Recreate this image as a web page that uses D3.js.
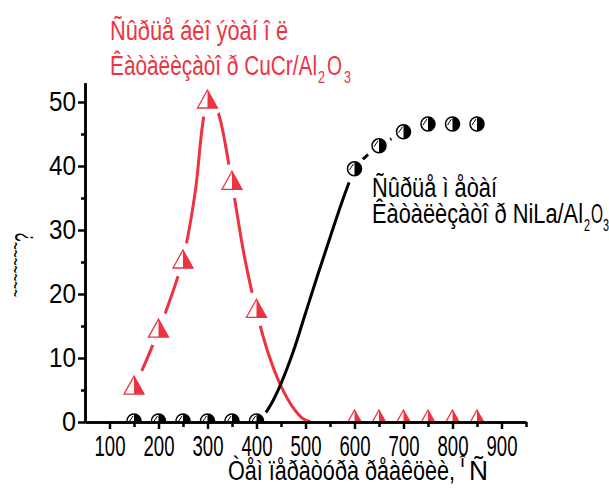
<!DOCTYPE html>
<html lang="en">
<head>
<meta charset="UTF-8">
<title>chart</title>
<script src="https://cdn.jsdelivr.net/npm/d3@7"></script>
<style>
  body { margin: 0; background: #fff; }
  text { font-family: "Liberation Sans", Arial, sans-serif; }
</style>
</head>
<body>
<script>
// measured points
var redX = [150, 200, 250, 300, 350, 400, 600, 650, 700, 750, 800, 850];
var redY = [5.3, 14.2, 25, 50, 37.3, 17.3, 0, 0, 0, 0, 0, 0];
var blackX = [150, 200, 250, 300, 350, 400, 600, 650, 700, 750, 800, 850];
var blackY = [0, 0, 0, 0, 0, 0, 39.4, 43, 45.2, 46.4, 46.4, 46.4];

// fitted curves
var redFitX = [150, 175, 200, 225, 250, 275, 290, 300, 310, 325, 350, 375, 400, 425, 450, 475, 495, 510];
var redFitY = [5.3, 9.6, 14.2, 19.4, 25.5, 36, 46.5, 50.2, 50.3, 47.5, 37.3, 26, 17.3, 10.5, 5.6, 2.2, 0.5, 0];
var blackFitX = [405, 430, 450, 475, 500, 525, 550, 575, 600, 625, 650, 700, 750, 800, 850];
var blackFitY = [0, 2.8, 6, 11, 17, 23, 28.8, 34.5, 39.4, 41.6, 43, 45.2, 46.3, 46.4, 46.4];

var xTicks = [100, 200, 300, 400, 500, 600, 700, 800, 900];
var xMinor = [150, 250, 350, 450, 550, 650, 750, 850, 950];
var yTicks = [0, 10, 20, 30, 40, 50];
var yMinor = [5, 15, 25, 35, 45];

var width = 609, height = 488;
var red = "#ee3340";

var svg = d3.select("body").append("svg")
    .attr("width", width)
    .attr("height", height);

var x = d3.scaleLinear().domain([50, 950]).range([85, 526]);
var y = d3.scaleLinear().domain([0, 53]).range([422, 422 - 53 * 6.4]);

svg.append("clipPath").attr("id", "plot")
  .append("rect")
    .attr("x", 0).attr("y", 0)
    .attr("width", width).attr("height", y(0));

var redLine = d3.line()
    .x(function (d) { return x(d[0]); })
    .y(function (d) { return y(d[1]); })
    .curve(d3.curveCatmullRom);
var blackLine = d3.line()
    .x(function (d) { return x(d[0]); })
    .y(function (d) { return y(d[1]); })
    .curve(d3.curveMonotoneX);

// curves
svg.append("path")
    .datum(d3.zip(redFitX, redFitY))
    .attr("d", redLine)
    .attr("fill", "none")
    .attr("stroke", red)
    .attr("stroke-width", 3);

svg.append("path")
    .datum(d3.zip(blackFitX, blackFitY))
    .attr("d", blackLine)
    .attr("fill", "none")
    .attr("stroke", "#000")
    .attr("stroke-width", 3);

// gaps around symbols
var redPts = d3.zip(redX, redY), blackPts = d3.zip(blackX, blackY);
svg.selectAll("circle.gapR")
    .data(redPts).enter().append("circle")
    .attr("cx", function (d) { return x(d[0]); })
    .attr("cy", function (d) { return y(d[1]) - 2; })
    .attr("r", 17)
    .attr("fill", "#fff");
svg.selectAll("circle.gapB")
    .data(blackPts).enter().append("circle")
    .attr("cx", function (d) { return x(d[0]); })
    .attr("cy", function (d) { return y(d[1]); })
    .attr("r", 13.5)
    .attr("fill", "#fff");

// symbols
var marks = svg.append("g").attr("clip-path", "url(#plot)");

var tri = marks.selectAll("g.tri")
    .data(redPts).enter().append("g")
    .attr("transform", function (d) { return "translate(" + x(d[0]) + "," + y(d[1]) + ")"; });
tri.append("path")
    .attr("d", "M0,-12L-10,6L10,6Z")
    .attr("fill", "#fff")
    .attr("stroke", red)
    .attr("stroke-width", 1.3);
tri.append("path")
    .attr("d", "M0,-12L10,6L0,6Z")
    .attr("fill", red);

var circ = marks.selectAll("g.circ")
    .data(blackPts).enter().append("g")
    .attr("transform", function (d) { return "translate(" + x(d[0]) + "," + (y(d[1]) - 1) + ")"; });
circ.append("circle")
    .attr("r", 7)
    .attr("fill", "#fff")
    .attr("stroke", "#000")
    .attr("stroke-width", 1.5);
circ.append("path")
    .attr("d", "M0,-7A7,7 0 0 1 0,7Z")
    .attr("fill", "#000");
circ.append("line")
    .attr("x1", -1).attr("y1", -5)
    .attr("x2", -5).attr("y2", 1)
    .attr("stroke", "#000")
    .attr("stroke-width", 1);

// axes
var yAxis = svg.append("g")
    .attr("transform", "translate(" + x(50) + ",0)")
    .call(d3.axisLeft(y).tickValues(yTicks).tickSize(7).tickSizeOuter(0).tickPadding(2));
svg.append("g")
    .attr("transform", "translate(" + x(50) + ",0)")
    .call(d3.axisLeft(y).tickValues(yMinor).tickSize(4).tickSizeOuter(0).tickFormat(""));

var xAxis = svg.append("g")
    .attr("transform", "translate(0," + y(0) + ")")
    .call(d3.axisBottom(x).tickValues(xTicks).tickSize(7).tickSizeOuter(0).tickPadding(6));
svg.append("g")
    .attr("transform", "translate(0," + y(0) + ")")
    .call(d3.axisBottom(x).tickValues(xMinor).tickSize(5).tickSizeOuter(0).tickFormat(""));

svg.selectAll(".domain, .tick line")
    .attr("stroke", "#000")
    .attr("stroke-width", 2.5);

yAxis.selectAll("text")
    .attr("font-size", 28)
    .attr("fill", "#000")
    .attr("textLength", function (d) { return d < 10 ? 14 : 27; })
    .attr("lengthAdjust", "spacingAndGlyphs");
xAxis.selectAll("text")
    .attr("font-size", 29)
    .attr("fill", "#000")
    .attr("textLength", 31)
    .attr("lengthAdjust", "spacingAndGlyphs");

// labels: each piece placed on its own so it can be squeezed to the picture's width
function label(txt, px, py, size, len, color) {
    var t = svg.append("text")
        .attr("x", px).attr("y", py)
        .attr("font-size", size)
        .attr("fill", color)
        .text(txt);
    if (len) t.attr("textLength", len).attr("lengthAdjust", "spacingAndGlyphs");
    return t;
}

label("Ñûðüå áèî ýòàí î ë", 110, 40, 27, 178, red);
label("Êàòàëèçàòî ð CuCr/Al", 110, 75, 27, 207, red);
label("2", 318, 83, 17, 7, red);
label("O", 327, 75, 27, 15, red);
label("3", 344, 83, 17, 7, red);

label("Ñûðüå ì åòàí", 372, 197, 27, 125, "#000");
label("Êàòàëèçàòî ð NiLa/Al", 372, 223, 27, 211, "#000");
label("2", 584, 231, 17, 6, "#000");
label("O", 591, 223, 27, 12, "#000");
label("3", 603, 231, 17, 6, "#000");

label("Òåì ïåðàòóðà ðåàêöèè,", 228, 480, 27, 227, "#000");
label("Î", 460, 467, 13, 5, "#000");
label("Ñ", 469, 480, 27, 19, "#000");

// y title (rotated)
var yt = svg.append("text")
    .attr("transform", "translate(33,265) rotate(-90)")
    .attr("text-anchor", "middle")
    .attr("font-size", 26)
    .attr("fill", "#000")
    .attr("textLength", 64)
    .attr("lengthAdjust", "spacingAndGlyphs");
yt.append("tspan").attr("dy", -10).attr("font-size", 22).text("~~~~~~~");
yt.append("tspan").attr("dy", 10).text("?");
</script>
</body>
</html>
